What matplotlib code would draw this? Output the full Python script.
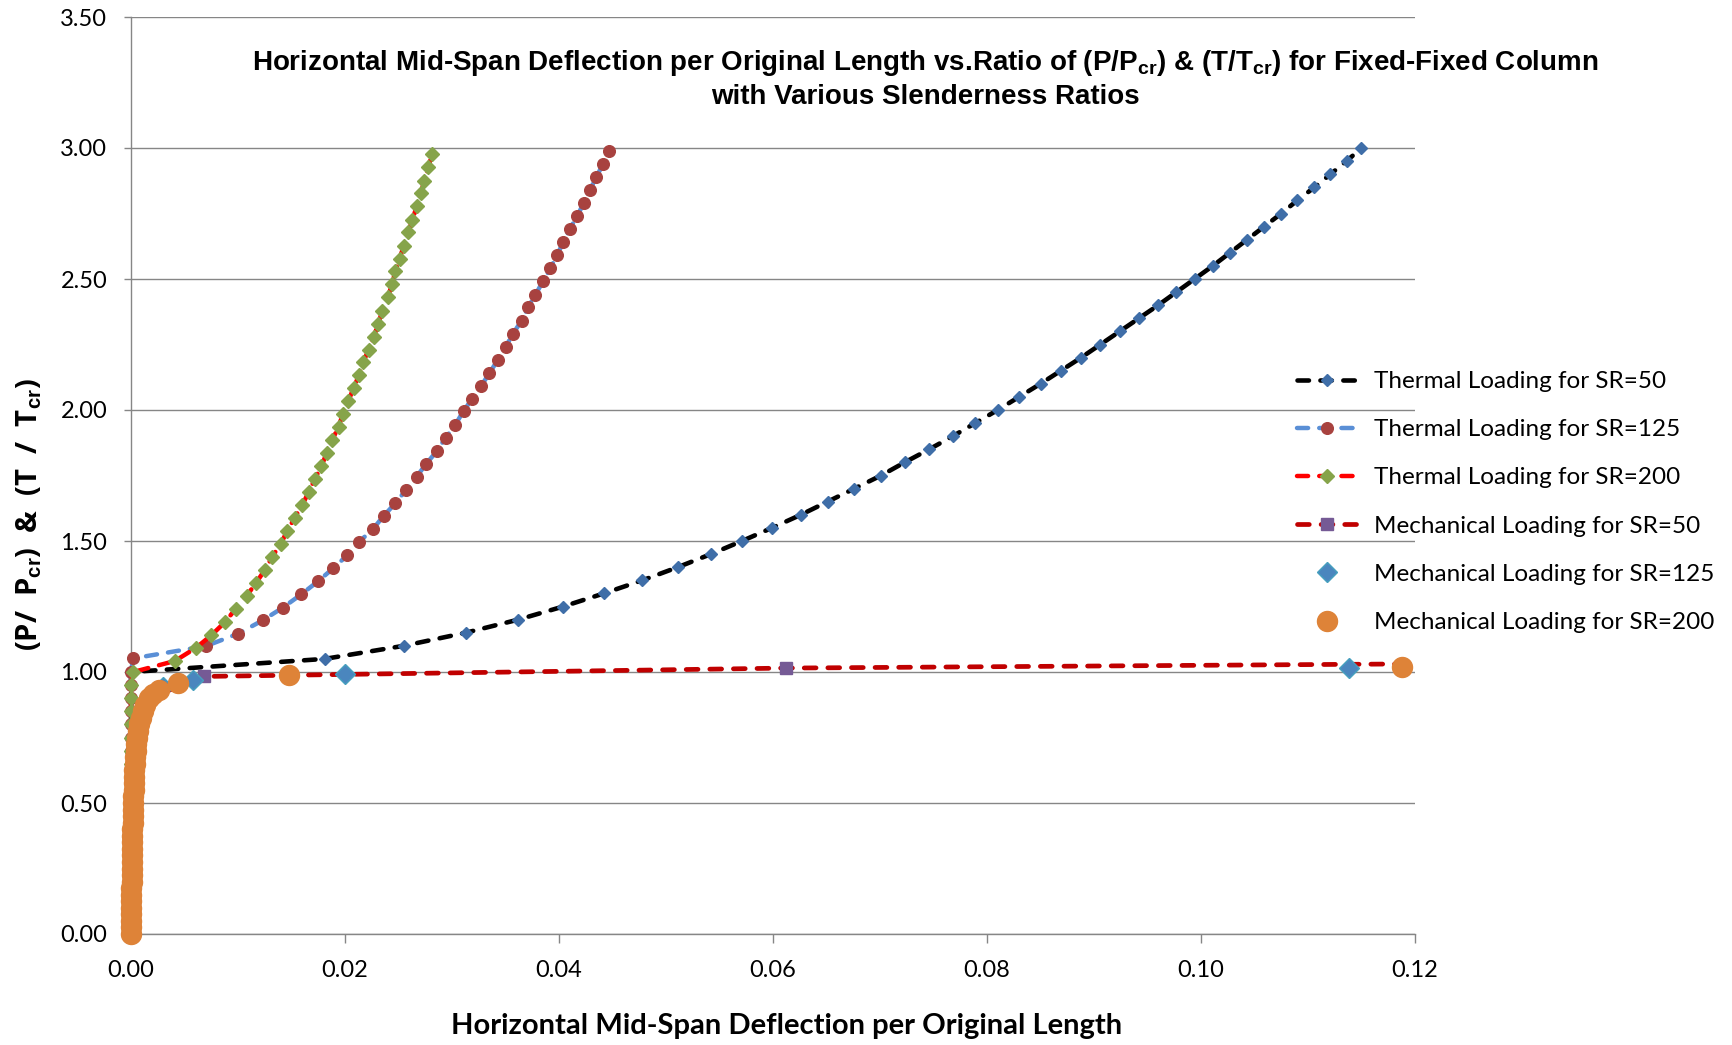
import matplotlib
matplotlib.use("Agg")
import matplotlib.pyplot as plt
from matplotlib.lines import Line2D

plt.rcParams['font.family'] = ['Lato', 'DejaVu Sans']
plt.rcParams['mathtext.fontset'] = 'custom'
plt.rcParams['mathtext.bf'] = 'Liberation Sans:bold'
plt.rcParams['mathtext.rm'] = 'Liberation Sans'

# ---------------- data ----------------
pre_y = [0.00, 0.05, 0.10, 0.15, 0.20, 0.25, 0.30, 0.35, 0.40, 0.45,
         0.50, 0.55, 0.60, 0.65, 0.70, 0.75, 0.80, 0.85, 0.90, 0.95]
pre_x = [0.0] * len(pre_y)

# Thermal loading SR=50
th50_x = [0.0, 0.0181, 0.0255, 0.0313, 0.0362, 0.0404, 0.0442, 0.0478, 0.0511, 0.0542, 0.0571,
          0.0599, 0.0626, 0.0651, 0.0676, 0.0701, 0.0723, 0.0746, 0.0768, 0.0789, 0.0810,
          0.0830, 0.0850, 0.0869, 0.0888, 0.0906, 0.0924, 0.0942, 0.0960, 0.0977, 0.0994,
          0.1011, 0.1027, 0.1043, 0.1059, 0.1075, 0.1090, 0.1106, 0.1121, 0.1136, 0.1150]
th50_y = [1.00, 1.05, 1.10, 1.15, 1.20, 1.25, 1.30, 1.35, 1.40, 1.45, 1.50,
          1.55, 1.60, 1.65, 1.70, 1.75, 1.80, 1.85, 1.90, 1.95, 2.00,
          2.05, 2.10, 2.15, 2.20, 2.25, 2.30, 2.35, 2.40, 2.45, 2.50,
          2.55, 2.60, 2.65, 2.70, 2.75, 2.80, 2.85, 2.90, 2.95, 3.00]

# Thermal loading SR=125
th125_x = [0.0, 0.0002, 0.0070, 0.0100, 0.0123, 0.0142, 0.0159, 0.0175, 0.0189, 0.0202, 0.0213,
           0.0226, 0.0236, 0.0247, 0.0257, 0.0267, 0.0276, 0.0286, 0.0294, 0.0303, 0.0311,
           0.0319, 0.0327, 0.0335, 0.0343, 0.0350, 0.0357, 0.0365, 0.0371, 0.0378, 0.0385,
           0.0392, 0.0398, 0.0404, 0.0410, 0.0417, 0.0423, 0.0429, 0.0435, 0.0441, 0.0447]
th125_y = [1.000, 1.052, 1.099, 1.146, 1.197, 1.246, 1.296, 1.347, 1.396, 1.445, 1.496,
           1.545, 1.595, 1.644, 1.695, 1.746, 1.795, 1.844, 1.894, 1.943, 1.998,
           2.043, 2.090, 2.141, 2.192, 2.240, 2.291, 2.341, 2.392, 2.440, 2.491,
           2.541, 2.590, 2.640, 2.691, 2.739, 2.790, 2.841, 2.889, 2.939, 2.990]

# Thermal loading SR=200
th200_x = [0.0002, 0.0041, 0.0061, 0.0075, 0.0088, 0.0098, 0.0108, 0.0117, 0.0125, 0.0132, 0.0140,
           0.0146, 0.0153, 0.0160, 0.0166, 0.0172, 0.0178, 0.0183, 0.0188, 0.0194, 0.0198,
           0.0203, 0.0208, 0.0213, 0.0217, 0.0222, 0.0227, 0.0231, 0.0235, 0.0240, 0.0244,
           0.0247, 0.0251, 0.0255, 0.0259, 0.0263, 0.0267, 0.0271, 0.0274, 0.0278, 0.0281]
th200_y = [1.000, 1.042, 1.093, 1.140, 1.191, 1.242, 1.290, 1.341, 1.389, 1.440, 1.490,
           1.538, 1.589, 1.636, 1.687, 1.738, 1.786, 1.837, 1.885, 1.936, 1.985,
           2.033, 2.084, 2.132, 2.182, 2.230, 2.279, 2.330, 2.379, 2.430, 2.481,
           2.529, 2.578, 2.627, 2.678, 2.726, 2.777, 2.828, 2.875, 2.926, 2.977]

# Mechanical loading SR=50
me50_x = [0.0, 0.00002, 0.00005, 0.00008, 0.00013, 0.00019, 0.00029, 0.00045, 0.00077, 0.0017,
          0.0068, 0.0612, 0.1200]
me50_y = [0.0, 0.10, 0.20, 0.30, 0.40, 0.50, 0.60, 0.70, 0.80, 0.90,
          0.983, 1.015, 1.031]

# Mechanical loading SR=125
me125_x = [0.0, 0.00002, 0.00005, 0.00008, 0.00013, 0.00019, 0.00029, 0.00045, 0.00077, 0.0017,
           0.0030, 0.0058, 0.0200, 0.1138]
me125_y = [0.0, 0.10, 0.20, 0.30, 0.40, 0.50, 0.60, 0.70, 0.80, 0.90,
           0.943, 0.970, 0.993, 1.015]

# Mechanical loading SR=200
me200_x = [0.0, 0.000005, 0.00001, 0.000015, 0.00002, 0.000028, 0.000034, 0.00004, 0.000048,
           0.000056, 0.000064, 0.000073, 0.000083, 0.000093, 0.000104, 0.000116, 0.00013,
           0.000143, 0.000158, 0.000175, 0.00019, 0.00021, 0.000235, 0.00026, 0.00029,
           0.00032, 0.00036, 0.0004, 0.00045, 0.00051, 0.00058, 0.00066, 0.00077, 0.0009,
           0.0011, 0.00135, 0.0017, 0.0021, 0.0026, 0.0044, 0.0148, 0.1188]
me200_y = [0.0, 0.025, 0.05, 0.075, 0.10, 0.125, 0.15, 0.175, 0.20,
           0.225, 0.25, 0.275, 0.30, 0.325, 0.35, 0.375, 0.40,
           0.425, 0.45, 0.475, 0.50, 0.525, 0.55, 0.575, 0.60,
           0.625, 0.65, 0.675, 0.70, 0.725, 0.75, 0.775, 0.80, 0.825,
           0.85, 0.875, 0.90, 0.915, 0.932, 0.958, 0.988, 1.018]

labels = ['Thermal Loading for SR=50', 'Thermal Loading for SR=125', 'Thermal Loading for SR=200',
          'Mechanical Loading for SR=50', 'Mechanical Loading for SR=125', 'Mechanical Loading for SR=200']

x_ticks = [0.00, 0.02, 0.04, 0.06, 0.08, 0.10, 0.12]
y_ticks = [0.00, 0.50, 1.00, 1.50, 2.00, 2.50, 3.00, 3.50]

# ---------------- styles ----------------
dash = (0, (2.5, 2.5))
st1 = dict(color='black', lw=3.3, ls=dash, marker='D', ms=5.8, mfc='#3F6EA8', mec='#3F6EA8')
st2 = dict(color='#5A8FD6', lw=3.2, ls=dash, marker='o', ms=8.4, mfc='#A8423F', mec='#A8423F')
st3 = dict(color='#FF0000', lw=3.2, ls=dash, marker='D', ms=6.8, mfc='#86A44A', mec='#86A44A')
st4 = dict(color='#C00000', lw=3.4, ls=dash, marker='s', ms=8.8, mfc='#755A95', mec='#755A95')
st5 = dict(ls='none', marker='D', ms=10.2, mfc='#4A86BE', mec='#46A0BE', mew=1.0)
st6 = dict(ls='none', marker='o', ms=14.4, mfc='#DE8338', mec='#DE8338')

# ---------------- figure ----------------
W, H = 1733, 1045
fig = plt.figure(figsize=(W / 100, H / 100), dpi=100)
ax = fig.add_axes([131 / W, 1 - 934 / H, (1415 - 131) / W, (934 - 17) / H])
grid_c = '#868686'

l1, = ax.plot(pre_x + th50_x, pre_y + th50_y, zorder=3, clip_on=False, **st1)
l2, = ax.plot(pre_x + th125_x, pre_y + th125_y, zorder=3, clip_on=False, **st2)
l3, = ax.plot(pre_x + th200_x, pre_y + th200_y, zorder=3, clip_on=False, **st3)
l4, = ax.plot(me50_x, me50_y, zorder=3, markevery=list(range(len(me50_x) - 1)), **st4)
l5, = ax.plot(me125_x, me125_y, zorder=3, clip_on=False, **st5)
l6, = ax.plot(me200_x, me200_y, zorder=3, clip_on=False, **st6)
for ln in (l1, l2, l3, l4):
    ln.set_dash_capstyle('round')

ax.set_xlim(0, 0.12)
ax.set_ylim(0, 3.5)
ax.set_xticks(x_ticks)
ax.set_yticks(y_ticks)
ax.set_xticklabels(['%.2f' % v for v in x_ticks])
ax.set_yticklabels(['%.2f' % v for v in y_ticks])
ax.tick_params(axis='x', direction='out', length=6.5, width=1.0, color=grid_c,
               labelsize=17, pad=12)
ax.tick_params(axis='y', direction='out', length=5, width=1.0, color=grid_c,
               labelsize=17, pad=12)
ax.grid(axis='y', color=grid_c, lw=1.0, zorder=0)
ax.set_axisbelow(True)
for s in ('top', 'right'):
    ax.spines[s].set_visible(False)
for s in ('left', 'bottom'):
    ax.spines[s].set_color(grid_c)
    ax.spines[s].set_linewidth(1.0)

# titles / labels
fig.text(925 / W, 1 - 63 / H,
         r'Horizontal Mid-Span Deflection per Original Length vs.Ratio of (P/P$_{\mathbf{cr}}$) & (T/T$_{\mathbf{cr}}$) for Fixed-Fixed Column',
         ha='center', va='center', fontsize=20, fontweight='bold', family='Liberation Sans')
fig.text(925 / W, 1 - 97 / H, 'with Various Slenderness Ratios',
         ha='center', va='center', fontsize=20, fontweight='bold', family='Liberation Sans')
fig.text(787 / W, 1 - 1026 / H, 'Horizontal Mid-Span Deflection per Original Length',
         ha='center', va='center', fontsize=21, fontweight='bold')
fig.text(29 / W, 1 - 515 / H, r'(P/  P$_{\mathbf{cr}}$)  &  (T  /  T$_{\mathbf{cr}}$)',
         ha='center', va='center', fontsize=21, fontweight='bold', rotation=90,
         family=['Open Sans', 'DejaVu Sans'])

# legend
handles = []
for st in (st1, st2, st3, st4, st5, st6):
    hh = Line2D([], [], **st)
    hh.set_dash_capstyle('round')
    handles.append(hh)
leg = fig.legend(handles, labels, loc='upper left',
                 bbox_to_anchor=(1297 / W, 1 - 371 / H), bbox_transform=fig.transFigure,
                 frameon=False, fontsize=17.5, handlelength=2.5, handletextpad=0.66,
                 labelspacing=1.12, borderpad=0, borderaxespad=0, numpoints=1)

fig.savefig('out.png', dpi=100)
